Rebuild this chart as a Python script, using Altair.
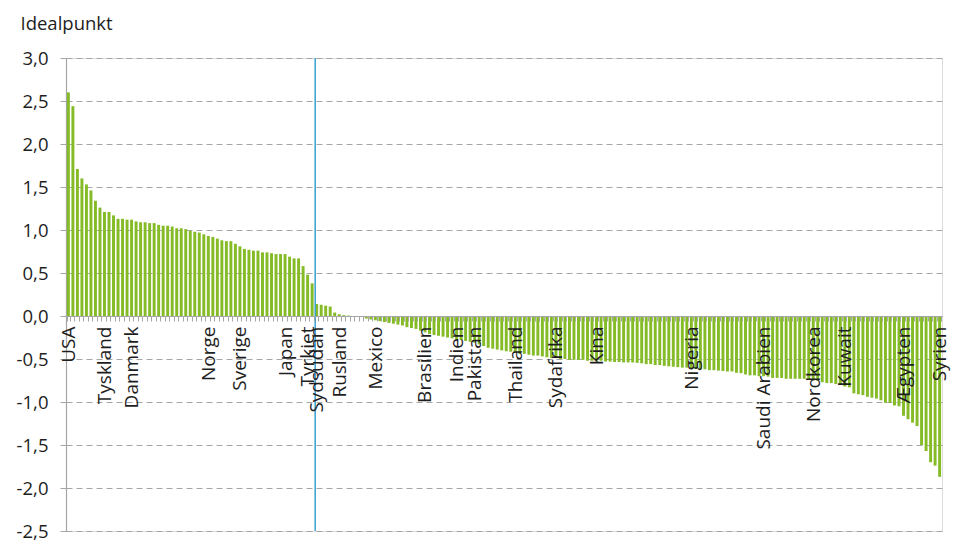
import altair as alt
import pandas as pd

# Ideal point per country (sorted)
values = [
    2.60, 2.44, 1.71, 1.60, 1.53, 1.46, 1.34, 1.26, 1.21, 1.21,
    1.17, 1.13, 1.13, 1.12, 1.12, 1.10, 1.09, 1.09, 1.08, 1.08,
    1.06, 1.05, 1.05, 1.04, 1.02, 1.02, 1.01,
    0.99, 0.98, 0.97, 0.95, 0.93, 0.92, 0.90, 0.88, 0.87, 0.87,
    0.84, 0.81, 0.78, 0.77, 0.76, 0.76, 0.74, 0.74, 0.73, 0.72,
    0.72, 0.72, 0.69, 0.67, 0.67, 0.58, 0.48, 0.38,
    0.14, 0.13, 0.12, 0.11, 0.04, 0.02, 0.01, 0.005, 0.0, -0.005, -0.01,
    -0.03, -0.04, -0.05, -0.06, -0.07, -0.08, -0.09, -0.10, -0.11, -0.13,
    -0.14, -0.15, -0.17, -0.19, -0.21, -0.22, -0.23, -0.24, -0.25, -0.26,
    -0.27, -0.28, -0.29, -0.30, -0.31, -0.33,
    -0.35, -0.37, -0.38, -0.39, -0.40, -0.41, -0.415, -0.42, -0.44, -0.44,
    -0.45, -0.46, -0.46, -0.47, -0.48, -0.49, -0.49, -0.50, -0.50, -0.51,
    -0.51, -0.51, -0.51, -0.52, -0.52, -0.52, -0.52, -0.53, -0.53, -0.535,
    -0.535, -0.54,
    -0.54, -0.54, -0.545, -0.55, -0.56, -0.56, -0.57, -0.57, -0.58, -0.585,
    -0.59, -0.595, -0.60, -0.60, -0.61, -0.615, -0.62, -0.62, -0.63, -0.63,
    -0.635, -0.64, -0.645, -0.645, -0.66, -0.665, -0.68, -0.69, -0.69, -0.70,
    -0.70,
    -0.705, -0.72, -0.72, -0.72, -0.73, -0.73, -0.73, -0.73, -0.73, -0.74,
    -0.75, -0.75, -0.77, -0.78, -0.78, -0.79, -0.80, -0.82, -0.83, -0.90,
    -0.91, -0.92, -0.94, -0.95, -0.96, -0.98, -1.01, -1.01, -1.04, -1.05,
    -1.16, -1.20, -1.24, -1.28, -1.50, -1.57, -1.70, -1.74, -1.87,
]

# Which bars carry a country name on the axis
label_index = [0, 8, 14, 31, 38, 48, 53, 55, 60, 68, 79, 86, 90, 99,
               108, 117, 138, 154, 165, 172, 185, 193]
label_text = ["USA", "Tyskland", "Danmark", "Norge", "Sverige", "Japan",
              "Tyrkiet", "Sydsudan", "Rusland", "Mexico", "Brasilien",
              "Indien", "Pakistan", "Thailand", "Sydafrika", "Kina",
              "Nigeria", "Saudi Arabien", "Nordkorea", "Kuwait", "Ægypten",
              "Syrien"]

# Split between the two groups (vertical line before this bar)
split_index = [55]

y_ticks = [3.0, 2.5, 2.0, 1.5, 1.0, 0.5, 0.0, -0.5, -1.0, -1.5, -2.0, -2.5]
y_min, y_max = -2.5, 3.0

df = pd.DataFrame({"i": list(range(len(values))), "v": values})
split_df = pd.DataFrame({"i": split_index})

W, H = 876, 473
x_offset = -H * (0 - y_min) / (y_max - y_min)

label_expr = "".join(
    f"datum.value == {i} ? '{t}' : " for i, t in zip(label_index, label_text)
) + "''"

y_label_expr = "(datum.value < 0 ? '-' : '') + replace(format(abs(datum.value), '.1f'), '.', ',')"

GRAY = "#a6a6a6"
GREEN = "#84bb26"
BLUE = "#3a9fd2"
TXT = "#1e1e1e"

bars = alt.Chart(df).mark_bar(color=GREEN).encode(
    x=alt.X(
        "i:O",
        title=None,
        scale=alt.Scale(paddingInner=0.35, paddingOuter=0.2),
        axis=alt.Axis(
            labelExpr=label_expr,
            labelAngle=-90,
            labelOverlap=False,
            labelBound=False,
            labelFlush=False,
            offset=x_offset,
            tickBand="extent",
            tickSize=5,
            tickColor=GRAY,
            tickWidth=1,
            domainColor=GRAY,
            domainWidth=1.2,
            labelFontSize=19,
            labelPadding=5,
            labelColor=TXT,
            labelFont="Open Sans",
            grid=False,
            zindex=1,
        ),
    ),
    y=alt.Y(
        "v:Q",
        scale=alt.Scale(domain=[y_min, y_max], nice=False, zero=False),
        axis=alt.Axis(
            values=y_ticks,
            labelExpr=y_label_expr,
            title="Idealpunkt",
            titleAngle=0,
            titleAlign="left",
            titleBaseline="alphabetic",
            titleX=-46,
            titleY=-29,
            titleFontSize=18.5,
            titleFontWeight="normal",
            titleFont="Open Sans",
            titleColor=TXT,
            grid=True,
            gridDash=[6, 4],
            gridColor=GRAY,
            gridWidth=1,
            tickSize=6,
            tickColor=GRAY,
            domainColor=GRAY,
            domainWidth=1.2,
            labelFontSize=18.5,
            labelPadding=12,
            labelColor=TXT,
            labelFont="Open Sans",
        ),
    ),
    y2=alt.datum(0),
)

rule = alt.Chart(split_df).mark_rule(color=BLUE, strokeWidth=1.5).encode(
    x=alt.X("i:O", title=None, bandPosition=0),
)

chart = alt.layer(bars, rule).properties(
    width=W,
    height=H,
    autosize=alt.AutoSizeParams(type="none"),
    padding={"left": 58, "top": 50, "right": 13, "bottom": 12},
).configure_view(stroke=None).configure(font="Open Sans")

chart.save("out.html", embed_options={"renderer": "svg", "actions": False})
